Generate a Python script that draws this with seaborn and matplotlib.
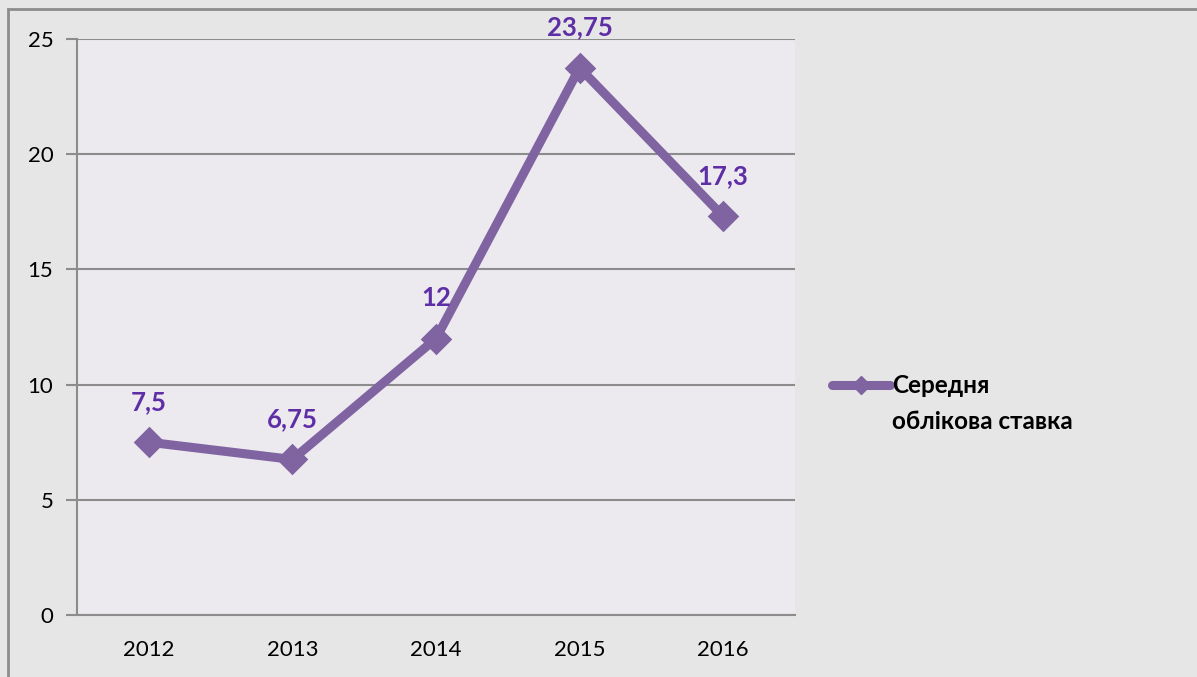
import numpy as np
import pandas as pd
import seaborn as sns
import matplotlib.pyplot as plt
from matplotlib.patches import Rectangle
from matplotlib.lines import Line2D

sns.set_theme(style="white")
plt.rcParams['font.family'] = ['Lato', 'DejaVu Sans']

# дані
roky = ["2012", "2013", "2014", "2015", "2016"]
stavka = [7.5, 6.75, 12, 23.75, 17.3]
pidpysy = ["7,5", "6,75", "12", "23,75", "17,3"]
y_ticks = [0, 5, 10, 15, 20, 25]
nazva = "Середня\nоблікова ставка"

df = pd.DataFrame({"rik": roky, "stavka": stavka})
kolir = "#8064A2"
kolir_tekst = "#5E2EA6"

fig = plt.figure(figsize=(11.97, 6.77), dpi=100)
fig.patch.set_facecolor("#E6E6E6")
# рамка навколо області діаграми
fig.patches.append(Rectangle((8 / 1197, -0.01), 1.0, 1 - 9 / 677 + 0.01,
                             transform=fig.transFigure, fill=False,
                             edgecolor="#8C8C8C", linewidth=2, zorder=0))

ax = fig.add_axes([77 / 1197, 1 - 615 / 677, (795 - 77) / 1197, (615 - 39) / 677])
ax.set_facecolor("#ECEAEF")

sns.pointplot(data=df, x="rik", y="stavka", color=kolir, markers="D",
              markersize=11.5, linewidth=6.5, ax=ax)

for i, (v, t) in enumerate(zip(stavka, pidpysy)):
    ax.annotate(t, (i, v), xytext=(0, 29), textcoords="offset points",
                ha="center", va="center", fontsize=18.5, fontweight="bold",
                color=kolir_tekst, annotation_clip=False)

ax.set_ylim(0, 25)
ax.set_xlim(-0.5, len(roky) - 0.5)
ax.set_yticks(y_ticks)
ax.set_yticklabels([str(t) for t in y_ticks], fontsize=16, color="black")
ax.set_xticks(range(len(roky)))
ax.set_xticklabels(roky, fontsize=16, color="black")
ax.set_xticks(np.arange(-0.5, len(roky)), minor=True)
ax.tick_params(axis="x", which="major", length=0, pad=18)
ax.tick_params(axis="x", which="minor", length=7, width=1.5, color="#8C8C8C", direction="out")
ax.tick_params(axis="y", length=8, width=1.5, color="#8C8C8C", direction="out", pad=9, left=True)
ax.set_xlabel("")
ax.set_ylabel("")

ax.yaxis.grid(True, color="#8C8C8C", linewidth=1.5)
ax.set_axisbelow(True)
for s in ["top", "right"]:
    ax.spines[s].set_visible(False)
for s in ["left", "bottom"]:
    ax.spines[s].set_color("#8C8C8C")
    ax.spines[s].set_linewidth(1.5)

# легенда: маркер на рівні першого рядка
fig.add_artist(Line2D([832 / 1197, 890 / 1197], [1 - 385 / 677] * 2,
                      transform=fig.transFigure, color=kolir, linewidth=6.5,
                      solid_capstyle="round"))
fig.add_artist(Line2D([861 / 1197], [1 - 385 / 677], transform=fig.transFigure,
                      color=kolir, marker="D", markersize=9))
fig.text(892 / 1197, 1 - 374 / 677, nazva, ha="left", va="top", fontsize=17.5,
         fontweight="bold", color="black", linespacing=1.7)

fig.savefig("out.png", dpi=100, facecolor=fig.get_facecolor())
